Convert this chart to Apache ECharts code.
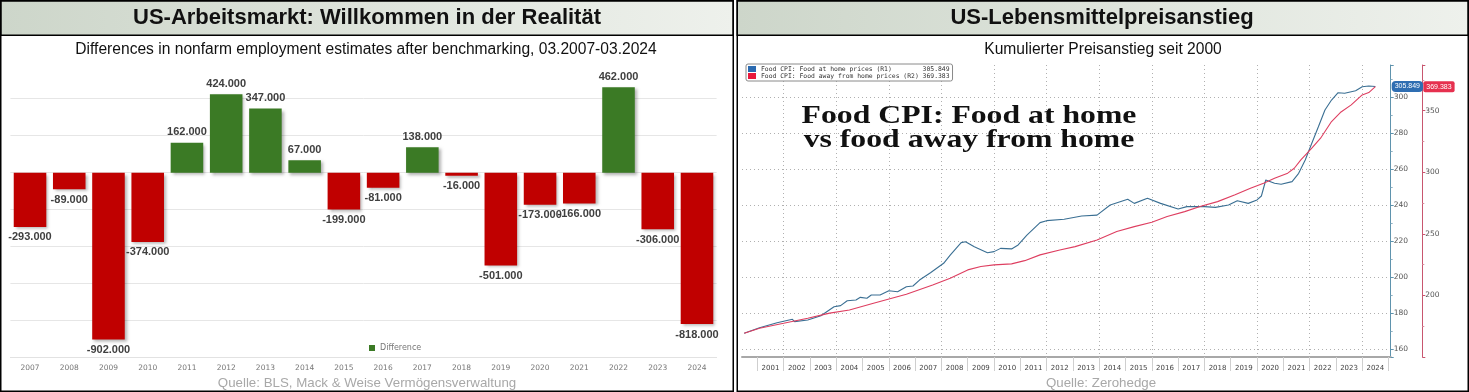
<!DOCTYPE html>
<html><head><meta charset="utf-8">
<script src="https://cdn.jsdelivr.net/npm/echarts@6/dist/echarts.min.js"></script>
<style>html,body{margin:0;padding:0;background:#fff}#c{width:1469px;height:392px}</style>
</head><body><div id="c"></div>
<script>
// ---------- Left chart data ----------
const years = ['2007','2008','2009','2010','2011','2012','2013','2014','2015','2016','2017','2018','2019','2020','2021','2022','2023','2024'];
const differences = [-293,-89,-902,-374,162,424,347,67,-199,-81,138,-16,-501,-173,-166,462,-306,-818];
const barTicks = {min:-1000, max:400, interval:200};

// ---------- Right chart data ----------
const monthFirst = [2000, 6];
const monthLast = [2025, 2];
const nameHome = 'Food CPI: Food at home prices (R1)';
const nameAway = 'Food CPI: Food away from home prices (R2)';
const foodAtHome = [
 ['2000-07',168.7],['2001-02',171.8],['2001-10',174.6],['2002-05',176.5],['2002-06',175.2],['2002-12',176.1],
 ['2003-06',178.5],['2003-12',183.5],['2004-03',184.1],['2004-06',186.8],['2004-10',187.2],['2004-12',188.7],
 ['2005-03',188.2],['2005-05',190.0],['2005-09',190.0],['2006-01',192.4],['2006-05',191.8],['2006-09',194.6],
 ['2006-12',195.0],['2007-03',198.3],['2007-08',202.4],['2008-02',207.6],['2008-05',212.2],['2008-10',219.1],
 ['2008-12',219.6],['2009-04',216.8],['2009-10',213.5],['2010-01',214.1],['2010-04',215.9],['2010-09',215.6],
 ['2010-12',217.8],['2011-04',223.3],['2011-10',230.2],['2012-01',231.3],['2012-09',232.1],['2013-05',233.9],
 ['2013-12',234.4],['2014-06',240.0],['2015-02',243.2],['2015-05',240.9],['2015-11',243.7],['2016-05',240.9],
 ['2017-01',237.8],['2017-05',239.1],['2018-01',239.1],['2018-06',238.7],['2018-12',240.0],['2019-04',242.4],
 ['2019-09',240.9],['2020-01',242.8],['2020-03',245.0],['2020-05',253.9],['2020-09',252.1],['2020-12',251.5],
 ['2021-05',253.0],['2021-08',257.6],['2021-11',265.0],['2022-02',274.3],['2022-05',283.5],['2022-08',292.8],
 ['2022-11',298.3],['2023-02',302.4],['2023-05',302.1],['2023-10',303.5],['2024-01',305.7],['2024-04',306.1],
 ['2024-07',305.849]
];
const foodAwayFromHome = [
 ['2000-07',169.3],['2001-02',173.4],['2002-01',177.4],['2002-12',181.5],['2003-10',185.6],['2004-07',188.2],
 ['2005-06',193.7],['2006-09',201.0],['2007-09',208.5],['2008-05',214.0],['2009-01',220.7],['2009-07',223.4],
 ['2010-01',224.8],['2010-09',225.6],['2011-03',228.2],['2011-10',232.9],['2012-07',236.9],['2013-02',239.6],
 ['2013-12',245.0],['2014-09',251.8],['2015-05',255.8],['2016-01',259.4],['2016-08',264.0],['2017-04',268.0],
 ['2017-11',272.1],['2018-07',276.1],['2019-03',281.6],['2019-10',287.0],['2020-04',291.1],['2020-09',295.1],
 ['2021-03',299.2],['2021-06',303.2],['2021-09',310.0],['2022-02',319.5],['2022-06',327.6],['2022-11',341.1],
 ['2023-03',348.4],['2023-08',354.6],['2024-01',362.7],['2024-04',364.6],['2024-07',369.383]
];
const homeAxis = {min:155.556, max:317.778, splitNumber:8};
const awayAxis = {min:150, max:387, interval:50};

// month categories
const months = [];
{ let y = monthFirst[0], m = monthFirst[1];
  while (y < monthLast[0] || (y === monthLast[0] && m <= monthLast[1])) {
    months.push(y + '-' + String(m).padStart(2,'0'));
    m++; if (m > 12) { m = 1; y++; }
  } }

const GREEN = '#3b7a25', RED = '#c00000';
const BLUE_LINE = '#3a6f93', RED_LINE = '#de3e60';
const narrow = "'Liberation Sans Narrow','Arial Narrow','Liberation Sans',sans-serif";
const lastHome = foodAtHome[foodAtHome.length-1][1];
const lastAway = foodAwayFromHome[foodAwayFromHome.length-1][1];

const barData = differences.map(v => ({
  value: v,
  itemStyle: {color: v < 0 ? RED : GREEN},
  label: {position: v < 0 ? 'bottom' : 'top'}
}));

const titleGrad = () => new echarts.graphic.LinearGradient(0,0,1,0,[{offset:0,color:'#cdd6ca'},{offset:1,color:'#eef1ec'}]);

const chart = echarts.init(document.getElementById('c'));
chart.setOption({
  animation: false,
  graphic: [
    {type:'rect', z:-5, shape:{x:0.75,y:0.75,width:732.5,height:34.5}, style:{fill:titleGrad(), stroke:'#000', lineWidth:1.5}},
    {type:'rect', z:-5, shape:{x:0.75,y:0.75,width:732.5,height:390.5}, style:{fill:'transparent', stroke:'#000', lineWidth:1.5}},
    {type:'rect', z:-5, shape:{x:737.25,y:0.75,width:731,height:34.5}, style:{fill:titleGrad(), stroke:'#000', lineWidth:1.5}},
    {type:'rect', z:-5, shape:{x:737.25,y:0.75,width:731,height:390.5}, style:{fill:'transparent', stroke:'#000', lineWidth:1.5}},
    {type:'text', x:367, y:18, style:{text:'US-Arbeitsmarkt: Willkommen in der Realität', align:'center', verticalAlign:'middle', fontFamily:narrow, fontWeight:'bold', fontSize:22, fill:'#111'}},
    {type:'text', x:1102, y:18, style:{text:'US-Lebensmittelpreisanstieg', align:'center', verticalAlign:'middle', fontFamily:narrow, fontWeight:'bold', fontSize:22, fill:'#111'}},
    {type:'text', x:366, y:50, style:{text:'Differences in nonfarm employment estimates after benchmarking, 03.2007-03.2024', align:'center', verticalAlign:'middle', fontFamily:narrow, fontSize:15.6, fill:'#111'}},
    {type:'text', x:1103, y:50, style:{text:'Kumulierter Preisanstieg seit 2000', align:'center', verticalAlign:'middle', fontFamily:narrow, fontSize:15.6, fill:'#111'}},
    {type:'text', x:367, y:383, style:{text:'Quelle: BLS, Mack & Weise Vermögensverwaltung', align:'center', verticalAlign:'middle', fontFamily:narrow, fontSize:13.3, fill:'#a8a8a8'}},
    {type:'text', x:1101, y:383, style:{text:'Quelle: Zerohedge', align:'center', verticalAlign:'middle', fontFamily:narrow, fontSize:13.3, fill:'#a8a8a8'}},
    {type:'text', x:969, y:128, scaleX:1.22, z:10, style:{text:'Food CPI: Food at home\nvs food away from home', align:'center', verticalAlign:'middle', fontFamily:"'Liberation Serif',serif", fontWeight:'bold', fontSize:26, lineHeight:24, fill:'#111', shadowColor:'rgba(0,0,0,0.6)', shadowBlur:4, shadowOffsetX:3, shadowOffsetY:3}}
  ],
  legend: [
    {data:['Difference'], left:364, top:339, itemWidth:6, itemHeight:6, icon:'rect', textStyle:{fontSize:8, color:'#777', fontFamily:'DejaVu Sans'}},
    {data:[nameHome, nameAway], left:746, top:64, orient:'vertical', icon:'rect', itemWidth:8, itemHeight:6, itemGap:1,
     backgroundColor:'#fff', borderColor:'#8a8a8a', borderWidth:1, borderRadius:2, padding:[2,3,2,2],
     formatter: n => n.padEnd(42,' ') + (n === nameHome ? lastHome : lastAway).toFixed(3),
     textStyle:{fontFamily:"'DejaVu Sans Mono',monospace", fontSize:6.4, color:'#333'}}
  ],
  grid: [
    {left:10.4, right:1469-716.6, top:98.7, bottom:392-357.7},
    {left:742, right:1469-1390.7, top:65, bottom:35}
  ],
  xAxis: [
    {type:'category', gridIndex:0, data:years,
     axisLine:{onZero:false, lineStyle:{color:'#e2e2e2'}}, axisTick:{show:false},
     axisLabel:{fontSize:7.5, color:'#777', margin:6, fontFamily:'DejaVu Sans'}},
    {type:'category', gridIndex:1, data:months, boundaryGap:false,
     axisLine:{lineStyle:{color:'#a8a8a8', width:2}},
     axisTick:{interval:(i,v)=>v.endsWith('-01'), length:14, lineStyle:{color:'#cfcfcf'}},
     axisLabel:{interval:(i,v)=>v.endsWith('-07') && !v.startsWith('2000'), formatter:v=>v.slice(0,4), fontSize:7, color:'#444', margin:8, fontFamily:'DejaVu Sans'},
     splitLine:{show:true, interval:(i,v)=>v.endsWith('-01') && (+v.slice(0,4)) % 2 === 0, lineStyle:{type:[1,3], color:'#b0b0b0'}}}
  ],
  yAxis: [
    {type:'value', gridIndex:0, min:barTicks.min, max:barTicks.max, interval:barTicks.interval,
     axisLabel:{show:false}, axisLine:{show:false}, axisTick:{show:false},
     splitLine:{lineStyle:{color:'#e6e6e6'}}},
    {type:'value', gridIndex:1, position:'right', min:homeAxis.min, max:homeAxis.max, splitNumber:homeAxis.splitNumber,
     axisLine:{show:true, lineStyle:{color:'#5f93ad'}},
     axisTick:{show:true, length:3, lineStyle:{color:'#5f93ad'}},
     minorTick:{show:true, splitNumber:2, length:2, lineStyle:{color:'#8fb2c4'}},
     axisLabel:{showMinLabel:false, showMaxLabel:false, fontSize:7.5, color:'#555', margin:3, fontFamily:'DejaVu Sans'},
     splitLine:{show:true, showMinLine:false, showMaxLine:false, lineStyle:{type:[1,3], color:'#b0b0b0'}},
     axisPointer:{show:true, value:lastHome, status:'show', triggerTooltip:false, lineStyle:{opacity:0},
       label:{show:true, formatter:p=>(+p.value).toFixed(3), backgroundColor:'#2f6eb2', color:'#fff', fontSize:7, padding:[2,3], borderRadius:4, margin:1}}},
    {type:'value', gridIndex:1, position:'right', offset:31.6, min:awayAxis.min, max:awayAxis.max, interval:awayAxis.interval,
     axisLine:{show:true, lineStyle:{color:'#c8566f'}},
     axisTick:{show:true, length:3, lineStyle:{color:'#c8566f'}},
     minorTick:{show:true, splitNumber:2, length:2, lineStyle:{color:'#d890a0'}},
     axisLabel:{showMinLabel:false, showMaxLabel:false, fontSize:7.5, color:'#555', margin:3, fontFamily:'DejaVu Sans'},
     splitLine:{show:false},
     axisPointer:{show:true, value:lastAway, status:'show', triggerTooltip:false, lineStyle:{opacity:0},
       label:{show:true, formatter:p=>(+p.value).toFixed(3), backgroundColor:'#e6304f', color:'#fff', fontSize:7, padding:[2,3], borderRadius:2, margin:1}}}
  ],
  series: [
    {type:'bar', name:'Difference', xAxisIndex:0, yAxisIndex:0, data:barData, barWidth:'83%', clip:false,
     itemStyle:{color:GREEN, shadowBlur:3, shadowOffsetX:2, shadowOffsetY:2, shadowColor:'rgba(0,0,0,0.3)'},
     label:{show:true, formatter:p=>p.value.toFixed(3), fontFamily:"'Liberation Sans',Arial,sans-serif", fontWeight:'bold', fontSize:11, color:'#404040', distance:5}},
    {type:'line', name:nameHome, xAxisIndex:1, yAxisIndex:1, data:foodAtHome, symbol:'none', clip:false,
     itemStyle:{color:'#2a6ab0'}, lineStyle:{color:BLUE_LINE, width:1.1}},
    {type:'line', name:nameAway, xAxisIndex:1, yAxisIndex:2, data:foodAwayFromHome, symbol:'none', clip:false,
     itemStyle:{color:'#e8193c'}, lineStyle:{color:RED_LINE, width:1.1}}
  ]
});
</script></body></html>
